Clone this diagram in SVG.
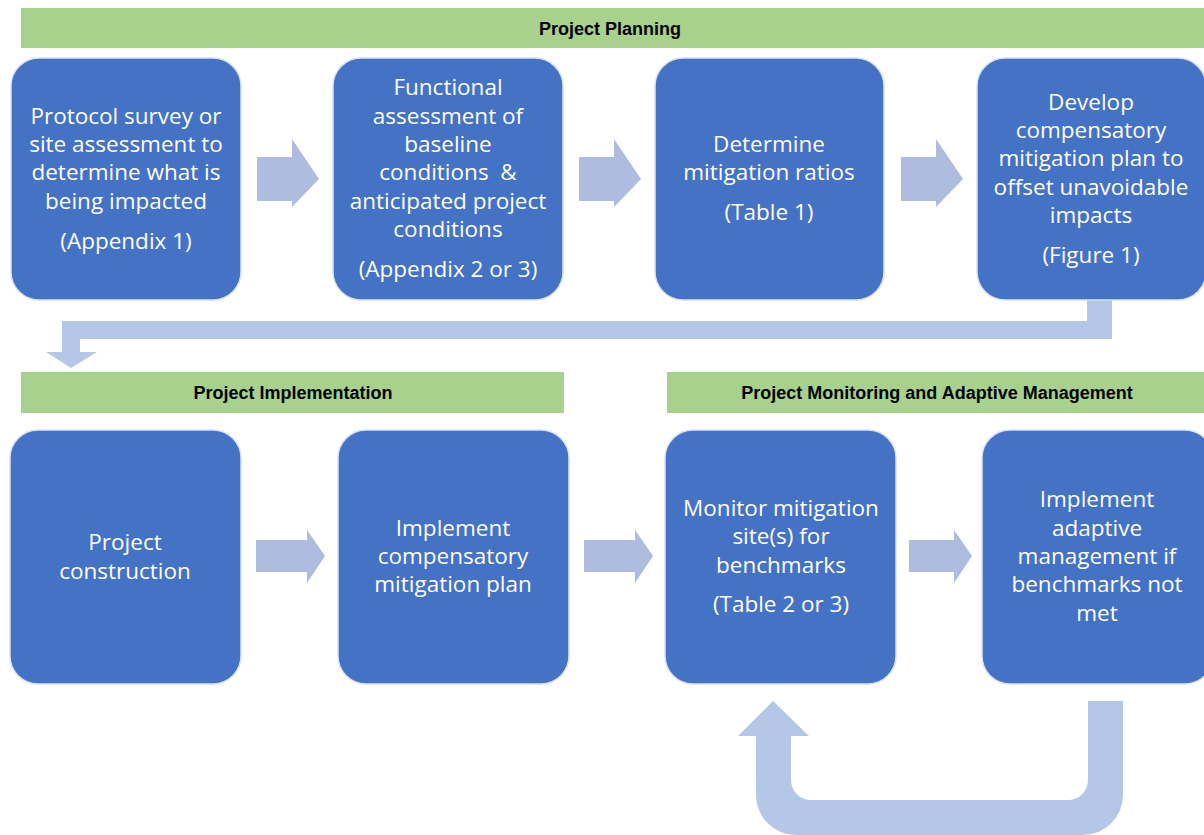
<svg xmlns="http://www.w3.org/2000/svg" width="1204" height="835" viewBox="0 0 1204 835">
<style>
.banner{fill:#A9D18E}
.btxt{font-family:"Liberation Sans",Arial,sans-serif;font-size:18px;font-weight:bold;fill:#000;text-anchor:middle}
.box{fill:#4472C4;stroke:#D9E1F2;stroke-width:1.5}
.t{font-family:"Open Sans","Liberation Sans",sans-serif;font-size:22.5px;fill:#fff;text-anchor:middle}
.arr{fill:#AFBBDF}
.conn{fill:#B4C7E7}
</style>
<rect width="1204" height="835" fill="#fff"/>
<g id="banners">
<g id="banner-planning"><rect class="banner" x="21" y="8" width="1190" height="40"/><text class="btxt" x="610" y="35">Project Planning</text></g>
<g id="banner-implementation"><rect class="banner" x="21" y="372" width="543" height="41"/><text class="btxt" x="293" y="399">Project Implementation</text></g>
<g id="banner-monitoring"><rect class="banner" x="667" y="372" width="545" height="41"/><text class="btxt" x="937" y="399">Project Monitoring and Adaptive Management</text></g>
</g>
<g id="connectors">
<polygon class="arr" points="257,157 292,157 292,139 319,179 292,207 292,201 257,201"/>
<polygon class="arr" points="579,157 614,157 614,139 641,179 614,207 614,201 579,201"/>
<polygon class="arr" points="901,157 936,157 936,139 963,179 936,207 936,201 901,201"/>
<polygon class="arr" points="256,540 307,540 307,530 325,556 307,583 307,572 256,572"/>
<polygon class="arr" points="584,540 635,540 635,530 653,556 635,583 635,572 584,572"/>
<polygon class="arr" points="909,540 954,540 954,530 972,556 954,583 954,572 909,572"/>
<path class="conn" d="M1087,300 H1112 V339 H80 V352 H97 L71,368 L46,352 H62 V321 H1087 Z"/>
<path class="conn" d="M1088,701 H1123 V795 A40,40 0 0 1 1083,835 H796 A40,40 0 0 1 756,795 V736 H738 L773,701 L809,736 H791 V780 A20,20 0 0 0 811,800 H1068 A20,20 0 0 0 1088,780 Z"/>
</g>
<g id="node-1"><rect class="box" x="11" y="58" width="230" height="242" rx="28"/>
<text class="t" x="126" y="124">Protocol survey or</text><text class="t" x="126" y="152">site assessment to</text><text class="t" x="126" y="180">determine what is</text><text class="t" x="126" y="209">being impacted</text><text class="t" x="126" y="249">(Appendix 1)</text></g>
<g id="node-2"><rect class="box" x="333" y="58" width="230" height="242" rx="28"/>
<text class="t" x="448" y="95">Functional</text><text class="t" x="448" y="124">assessment of</text><text class="t" x="448" y="152">baseline</text><text class="t" x="448" y="180" xml:space="preserve">conditions  &amp;</text><text class="t" x="448" y="209">anticipated project</text><text class="t" x="448" y="237">conditions</text><text class="t" x="448" y="277">(Appendix 2 or 3)</text></g>
<g id="node-3"><rect class="box" x="655" y="58" width="229" height="242" rx="28"/>
<text class="t" x="769" y="152">Determine</text><text class="t" x="769" y="180">mitigation ratios</text><text class="t" x="769" y="220">(Table 1)</text></g>
<g id="node-4"><rect class="box" x="977" y="58" width="229" height="242" rx="28"/>
<text class="t" x="1091" y="110">Develop</text><text class="t" x="1091" y="138">compensatory</text><text class="t" x="1091" y="166">mitigation plan to</text><text class="t" x="1091" y="195">offset unavoidable</text><text class="t" x="1091" y="223">impacts</text><text class="t" x="1091" y="263">(Figure 1)</text></g>
<g id="node-5"><rect class="box" x="10" y="430" width="231" height="254" rx="28"/>
<text class="t" x="125" y="550">Project</text><text class="t" x="125" y="579">construction</text></g>
<g id="node-6"><rect class="box" x="338" y="430" width="231" height="254" rx="28"/>
<text class="t" x="453" y="536">Implement</text><text class="t" x="453" y="564">compensatory</text><text class="t" x="453" y="592">mitigation plan</text></g>
<g id="node-7"><rect class="box" x="665" y="430" width="231" height="254" rx="28"/>
<text class="t" x="781" y="516">Monitor mitigation</text><text class="t" x="781" y="544">site(s) for</text><text class="t" x="781" y="573">benchmarks</text><text class="t" x="781" y="612">(Table 2 or 3)</text></g>
<g id="node-8"><rect class="box" x="982" y="430" width="231" height="254" rx="28"/>
<text class="t" x="1097" y="507">Implement</text><text class="t" x="1097" y="536">adaptive</text><text class="t" x="1097" y="564">management if</text><text class="t" x="1097" y="592">benchmarks not</text><text class="t" x="1097" y="621">met</text></g>
</svg>
